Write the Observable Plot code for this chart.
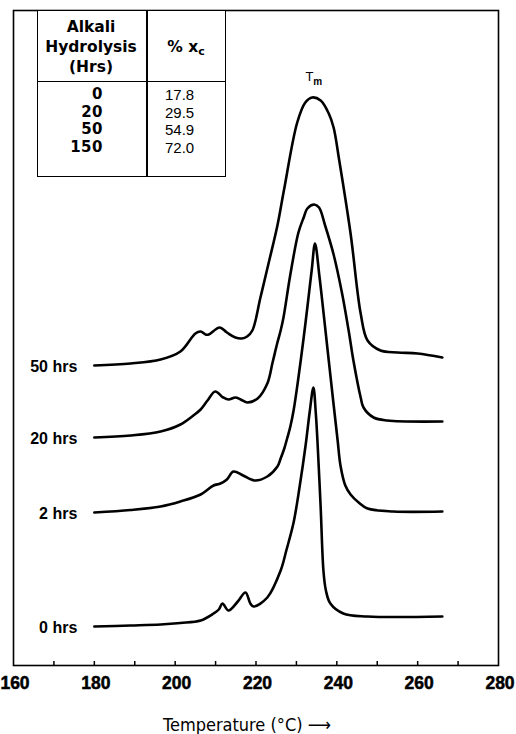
<!DOCTYPE html>
<html>
<head>
<meta charset="utf-8">
<script src="https://cdn.jsdelivr.net/npm/d3@7"></script>
<script src="https://cdn.jsdelivr.net/npm/@observablehq/plot@0.6"></script>
<style>
  html, body { margin: 0; padding: 0; background: #fff; }
  #wrap { position: relative; width: 516px; height: 734px; overflow: hidden; font-family: "Liberation Sans", Arial, sans-serif; color: #000; }
  #wrap svg { position: absolute; left: 0; top: 0; }
  .abs { position: absolute; }
  .hdr { font-family: "DejaVu Sans", sans-serif; font-weight: bold; font-size: 15.5px; line-height: 20px; text-align: center; }
  .num { font-family: "DejaVu Sans", sans-serif; font-weight: bold; font-size: 15px; line-height: 17.7px; text-align: right; letter-spacing: 0.5px; }
  .val { font-family: "Liberation Sans", sans-serif; font-size: 15px; line-height: 17.7px; text-align: left; }
  .xtitle { font-family: "DejaVu Sans Condensed", "Liberation Sans", sans-serif; font-size: 18px; white-space: nowrap; }
  .ticklab text { font-weight: bold; }
</style>
</head>
<body>
<div id="wrap"></div>
<script>
// ---- Data ----
const seriesLabels = ["50 hrs", "20 hrs", "2 hrs", "0 hrs"];
const baselineOffsets = [300, 228, 153, 39]; // vertical stacking offsets (arbitrary units)

const temp50 = [180, 189, 196.4, 201.3, 205.0, 206.3, 207.5, 208.3, 211.0, 212.8, 214.9, 216.5, 217.8, 219.1, 221.1, 223.1, 225.3, 226.9, 230.2, 232.2, 233.9, 236.0, 238.0, 239.2, 240.6, 243.4, 245.9, 247.6, 250.8, 255.0, 260.0, 266.1];
const heat50 = [0, 2, 6, 14, 32, 34, 31, 31, 38, 33, 28, 27, 29, 35, 68, 102, 140, 175, 243, 263, 268, 265, 252, 238, 205, 132, 52, 25, 15, 13, 12, 8];

const temp20 = [180, 189, 196.4, 201.3, 204.5, 206.3, 208.0, 209.9, 211.9, 213.2, 214.9, 216.2, 217.9, 220.4, 222.8, 224.1, 225.3, 226.1, 226.8, 228.5, 230.5, 231.8, 232.7, 234.4, 235.6, 237.1, 239.2, 241.3, 243.0, 244.1, 245.9, 246.6, 249.1, 252.5, 266.1];
const heat20 = [0, 2, 6, 13, 22, 28, 37, 46, 40, 38, 40, 38, 35, 39, 54, 75, 95, 107, 120, 163, 205, 220, 229, 233, 230, 212, 183, 144, 105, 77, 40, 30, 20, 17, 16];

const temp2 = [180, 189, 196.4, 201.3, 206.3, 209.5, 211.2, 212.8, 214.4, 216.8, 219.6, 222.8, 225.3, 226.1, 227.0, 227.7, 228.5, 229.3, 230.5, 231.8, 232.7, 233.8, 234.6, 235.7, 236.7, 237.7, 239.2, 240.2, 240.9, 242.1, 243.4, 245.4, 247.6, 254.0, 266.1];
const heat2 = [0, 2.5, 6, 11, 18, 27, 29, 33, 41, 37, 32, 36, 46, 54, 64, 74, 86, 102, 135, 175, 205, 243, 269, 236, 200, 163, 108, 72, 47, 27, 18, 10, 4, 1, 1];

const temp0 = [180, 189, 196.4, 201.3, 206.3, 209.5, 210.8, 211.7, 213.2, 215.5, 217.4, 218.6, 219.4, 222.8, 226.1, 227.5, 229.3, 230.8, 232.3, 233.3, 234.2, 234.8, 235.2, 236.0, 236.7, 237.3, 238.4, 241.6, 247.6, 266.1];
const heat0 = [0, 1, 2, 3.5, 6, 13, 17, 23, 16, 25, 34, 23, 20, 29, 56, 76, 104, 140, 182, 215, 239, 213, 186, 119, 55, 36, 23, 13, 10, 10];

const xTickValues = [160, 170, 180, 190, 200, 210, 220, 230, 240, 250, 260, 270, 280];
const xTickLabels = [160, 180, 200, 220, 240, 260, 280];
const tmTemperature = 234;

const tableHrs = ["0", "20", "50", "150"];
const tableXc = ["17.8", "29.5", "54.9", "72.0"];

// ---- Build rows ----
const temps = [temp50, temp20, temp2, temp0];
const heats = [heat50, heat20, heat2, heat0];
const rows = [];
temps.forEach((ts, i) => ts.forEach((t, j) => rows.push({series: seriesLabels[i], T: t, y: baselineOffsets[i] + heats[i][j]})));
const starts = seriesLabels.map((s, i) => ({label: s, T: temps[i][0], y: baselineOffsets[i] + heats[i][0]}));
const peak50 = baselineOffsets[0] + d3.max(heat50);

const chart = Plot.plot({
  width: 516,
  height: 734,
  marginLeft: 13,
  marginRight: 18,
  marginTop: 10,
  marginBottom: 69,
  x: {domain: [160, 280], axis: null},
  y: {domain: [0, 655], axis: null},
  style: {background: "#fff", color: "#000"},
  marks: [
    Plot.frame({strokeWidth: 1.6}),
    Plot.ruleX(xTickValues.filter(v => v > 160 && v < 280), {x: d => d, y1: 0, y2: 4, strokeWidth: 1.5}),
    Plot.text(xTickLabels, {x: d => d, y: 0, dx: 1.5, dy: 18, text: d => String(d), fontSize: 17.5, fontWeight: "bold", fontFamily: "Liberation Sans, Arial, sans-serif", fill: "#000", stroke: "#000", strokeWidth: 0.5, className: "ticklab"}),
    Plot.line(rows, {x: "T", y: "y", z: "series", stroke: "#000", strokeWidth: 2.6, curve: "catmull-rom"}),
    Plot.text(starts, {x: "T", y: "y", text: "label", dx: -17, dy: 1, textAnchor: "end", fontSize: 16, fontWeight: "bold", fontFamily: "Liberation Sans, Arial, sans-serif"}),
    Plot.text([tmTemperature], {x: d => d, y: () => peak50, text: () => "T", dx: -3, dy: -21, fontSize: 13, fontFamily: "Liberation Sans, sans-serif"}),
    Plot.text([tmTemperature], {x: d => d, y: () => peak50, text: () => "m", dx: 5, dy: -16, fontSize: 10, fontWeight: "bold", fontFamily: "Liberation Sans, sans-serif"})
  ]
});

const wrap = document.getElementById("wrap");
wrap.appendChild(chart);

// ---- Inset table ----
function div(cls, style, html) {
  const d = document.createElement("div");
  d.className = "abs " + (cls || "");
  d.setAttribute("style", style);
  if (html != null) d.innerHTML = html;
  wrap.appendChild(d);
  return d;
}
div("", "left:37px;top:9.5px;width:189px;height:167px;border:1.6px solid #000;box-sizing:border-box;background:#fff;");
div("", "left:146px;top:10px;width:1.6px;height:166px;background:#000;");
div("", "left:38px;top:80.5px;width:187px;height:1.6px;background:#000;");
div("hdr", "left:38px;top:17px;width:106px;", "Alkali<br>Hydrolysis<br>(Hrs)");
div("hdr", "left:150px;top:37px;width:72px;", "% x<sub style='font-size:11px;vertical-align:-3px;'>c</sub>");
div("num", "left:40px;top:86px;width:63px;", tableHrs.join("<br>"));
div("val", "left:165px;top:86px;width:58px;", tableXc.join("<br>"));

// ---- X axis title ----
div("xtitle", "left:0;top:714px;width:494px;text-align:center;", "Temperature (°C) &#x27F6;");
</script>
</body>
</html>
